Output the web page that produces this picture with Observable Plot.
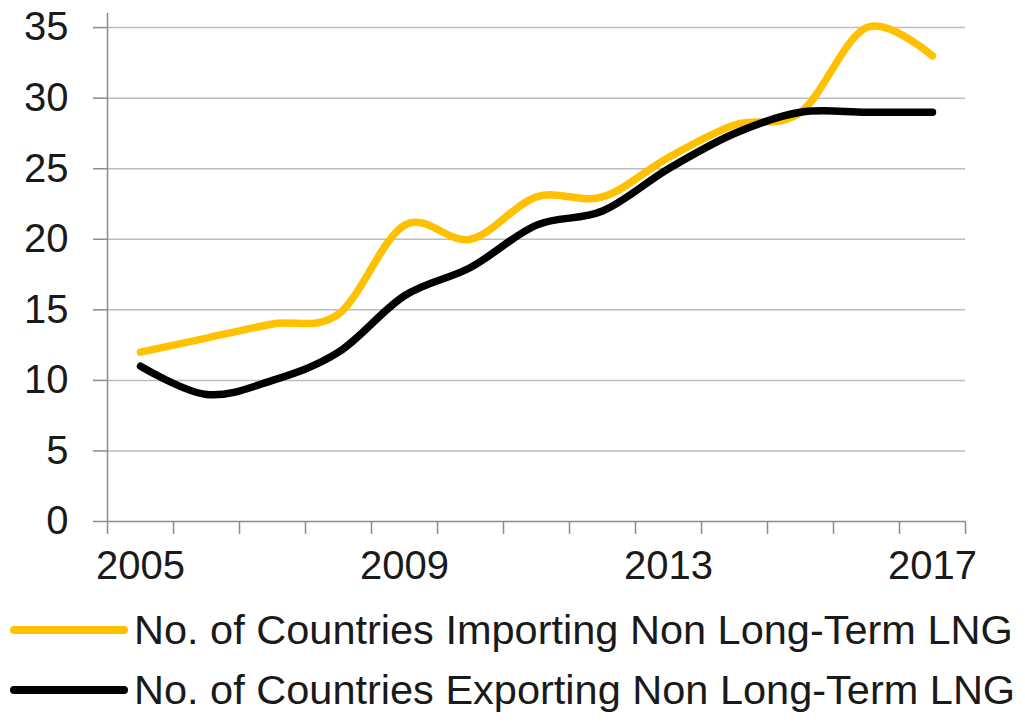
<!DOCTYPE html>
<html>
<head>
<meta charset="utf-8">
<script src="https://cdn.jsdelivr.net/npm/d3@7"></script>
<script src="https://cdn.jsdelivr.net/npm/@observablehq/plot@0.6"></script>
<style>
  html, body { margin: 0; padding: 0; background: #fff; }
  body { width: 1025px; height: 722px; overflow: hidden; font-family: "Liberation Sans", Arial, sans-serif; }
  #legend { margin-top: 5px; }
  .row { display: flex; align-items: center; height: 60px; }
  .row svg { flex: none; }
  .row span { font-size: 41.5px; color: #1a1a1a; margin-left: 6px; white-space: nowrap; }
</style>
</head>
<body>
<div id="chart"></div>
<div id="legend"></div>
<script>
const years = [2005, 2006, 2007, 2008, 2009, 2010, 2011, 2012, 2013, 2014, 2015, 2016, 2017];
const importing = [12, 13, 14, 14.7, 21, 20, 23, 23, 25.8, 28.1, 29, 35, 33];
const exporting = [11, 9, 10, 12, 16, 18, 21, 22, 25, 27.5, 29, 29, 29];
const yTicks = [0, 5, 10, 15, 20, 25, 30, 35];
const xLabelYears = [2005, 2009, 2013, 2017];
const seriesNames = ["No. of Countries Importing Non Long-Term LNG", "No. of Countries Exporting Non Long-Term LNG"];
const seriesColors = ["#FFC000", "#000000"];

const data = [];
years.forEach((y, i) => {
  data.push({year: y, value: importing[i], series: seriesNames[0]});
  data.push({year: y, value: exporting[i], series: seriesNames[1]});
});
const boundaries = d3.range(years[0] - 0.5, years[years.length - 1] + 1, 1);
const axisGray = "#8c8c8c";

const chart = Plot.plot({
  width: 1025,
  height: 595,
  marginTop: 13,
  marginBottom: 74,
  marginLeft: 107,
  marginRight: 60,
  style: {fontFamily: "Liberation Sans, Arial, sans-serif", fontSize: "40px", color: "#1a1a1a", background: "#fff"},
  x: {domain: [years[0] - 0.5, years[years.length - 1] + 0.5]},
  y: {domain: [0, 36]},
  color: {domain: seriesNames, range: seriesColors},
  marks: [
    Plot.gridY(yTicks.filter(d => d > 0), {stroke: "#bdbdbd", strokeOpacity: 1, strokeWidth: 1.5}),
    Plot.axisY(yTicks, {tickSize: 14, tickPadding: 25, stroke: axisGray, strokeWidth: 1.5, label: null, fontSize: 40}),
    Plot.axisX(boundaries, {tickSize: 13, tickFormat: () => "", stroke: axisGray, strokeWidth: 1.5, label: null}),
    Plot.axisX(xLabelYears, {tickSize: 0, tickPadding: 29, tickFormat: d => String(d), label: null, fontSize: 40}),
    Plot.ruleX([years[0] - 0.5], {y1: 0, y2: 36, stroke: axisGray, strokeWidth: 1.5}),
    Plot.ruleY([0], {stroke: axisGray, strokeWidth: 1.5}),
    Plot.line(data, {x: "year", y: "value", z: "series", stroke: "series", strokeWidth: 7.5, curve: "cardinal", strokeLinecap: "round", strokeLinejoin: "round"})
  ]
});
document.getElementById("chart").appendChild(chart);

const legend = document.getElementById("legend");
seriesNames.forEach((name, i) => {
  const row = document.createElement("div");
  row.className = "row";
  row.innerHTML = `<svg width="128" height="20"><line x1="14" y1="10" x2="124" y2="10" stroke="${seriesColors[i]}" stroke-width="8" stroke-linecap="round"/></svg><span>${name}</span>`;
  legend.appendChild(row);
});
</script>
</body>
</html>
